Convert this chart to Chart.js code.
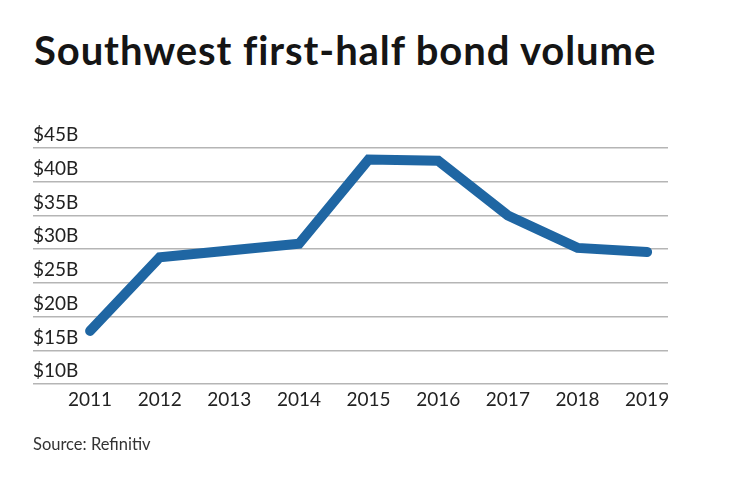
<!DOCTYPE html>
<html>
<head>
<meta charset="utf-8">
<script src="https://cdn.jsdelivr.net/npm/chart.js@4.4.1/dist/chart.umd.min.js"></script>
<style>
  html, body { margin: 0; padding: 0; background: #fff; }
  body { width: 740px; height: 482px; position: relative; overflow: hidden; font-family: Lato, sans-serif; }
  #title { position: absolute; left: 34px; top: 26px; font-size: 40px; font-weight: 700; letter-spacing: 0.9px; color: #151515; white-space: nowrap; }
  #source { position: absolute; left: 33px; top: 434px; font-size: 16.5px; color: #333; }
  #chart { position: absolute; left: 0; top: 0; }
</style>
</head>
<body>
<div id="title">Southwest first-half bond volume</div>
<canvas id="chart" width="740" height="482"></canvas>
<div id="source">Source: Refinitiv</div>
<script>
document.addEventListener('DOMContentLoaded', function() {
    // Data (billions of dollars)
    const years = [2011, 2012, 2013, 2014, 2015, 2016, 2017, 2018, 2019];
    const volume = [17.9, 28.8, 29.8, 30.8, 43.3, 43.1, 35.0, 30.2, 29.6];
    const yTicks = [10, 15, 20, 25, 30, 35, 40, 45];

    const points = years.map((y, i) => ({ x: y, y: volume[i] }));
    const ctx = document.getElementById('chart').getContext('2d');

    new Chart(ctx, {
        type: 'line',
        data: {
            datasets: [{
                data: points,
                borderColor: '#1f66a3',
                borderWidth: 10,
                borderCapStyle: 'round',
                borderJoinStyle: 'miter',
                pointRadius: 0,
                fill: false,
                tension: 0
            }]
        },
        options: {
            responsive: false,
            animation: false,
            layout: { padding: { left: 33, right: 72, top: 148, bottom: 75 } },
            plugins: { legend: { display: false }, tooltip: { enabled: false } },
            scales: {
                x: {
                    type: 'linear',
                    min: 2010.18,
                    max: 2019.3,
                    afterBuildTicks: axis => { axis.ticks = years.map(v => ({ value: v })); },
                    grid: { display: false },
                    border: { display: false },
                    ticks: {
                        padding: -4,
                        color: '#222',
                        font: { family: 'Lato', size: 19 },
                        callback: v => String(v),
                        maxRotation: 0,
                        autoSkip: false
                    }
                },
                y: {
                    min: 10,
                    max: 45,
                    afterBuildTicks: axis => { axis.ticks = yTicks.map(v => ({ value: v })); },
                    grid: { color: '#b5b5b5', lineWidth: 1.5, drawTicks: false },
                    border: { display: false },
                    ticks: {
                        mirror: true,
                        padding: 0,
                        labelOffset: -13,
                        color: '#222',
                        font: { family: 'Lato', size: 19 },
                        callback: v => '$' + v + 'B'
                    }
                }
            }
        }
    });
});
</script>
</body>
</html>
